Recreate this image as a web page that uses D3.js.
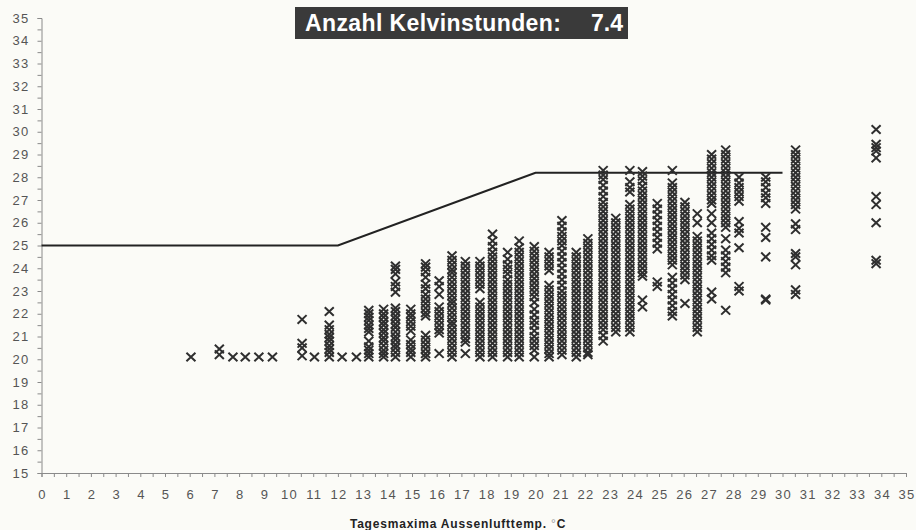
<!DOCTYPE html>
<html>
<head>
<meta charset="utf-8">
<script src="https://cdn.jsdelivr.net/npm/d3@7"></script>
<style>
 body { margin: 0; background: #fbfbf7; }
 svg { display: block; }
 text { font-family: "Liberation Sans", Arial, sans-serif; }
</style>
</head>
<body>
<div id="chart"></div>
<script>
// Tagesmaxima Aussenlufttemperatur (x) je Tag
var tmax = [6.05, 7.2, 7.75, 8.25, 8.8, 9.35, 10.55, 11.05, 11.65, 12.17, 12.75, 13.25, 13.85, 14.33,
  14.95, 15.55, 16.1, 16.62, 17.16, 17.75, 18.26, 18.87, 19.34, 19.95, 20.55, 21.07, 21.65, 22.12,
  22.74, 23.25, 23.82, 24.33, 24.93, 25.54, 26.05, 26.55, 27.13, 27.7, 28.24, 29.32, 30.53, 33.79];

// Raumtemperaturen (y) je Tag, gleiche Reihenfolge wie tmax
var troom = [
  [20.1],
  [20.45, 20.2],
  [20.1],
  [20.1],
  [20.1],
  [20.1],
  [21.75, 20.7, 20.5, 20.15],
  [20.1],
  [22.1, 21.5, 21.3, 21.1, 20.95, 20.8, 20.6, 20.45, 20.3, 20.1],
  [20.1],
  [20.1],
  [22.15, 22.0, 21.85, 21.7, 21.5, 21.35, 21.2, 20.8, 20.55, 20.4, 20.25, 20.1],
  [22.2, 22.0, 21.85, 21.65, 21.5, 21.3, 21.15, 20.95, 20.8, 20.6, 20.4, 20.25, 20.1],
  [24.1, 23.95, 23.75, 23.4, 23.2, 22.95, 22.25, 22.1, 21.9, 21.75, 21.55, 21.4, 21.2, 21.0, 20.85, 20.65, 20.5, 20.3, 20.1],
  [22.2, 22.0, 21.85, 21.65, 21.45, 21.25, 20.85, 20.65, 20.45, 20.3, 20.1],
  [24.2, 24.05, 23.85, 23.6, 23.3, 23.1, 22.85, 22.65, 22.45, 22.25, 22.05, 21.9, 21.05, 20.85, 20.65, 20.45, 20.25, 20.1],
  [23.45, 23.2, 22.85, 22.3, 22.1, 21.9, 21.7, 21.5, 21.3, 21.15, 20.25],
  [24.55, 24.35, 24.15, 23.95, 23.8, 23.6, 23.4, 23.2, 23.0, 22.8, 22.6, 22.45, 22.25, 22.05, 21.85, 21.65, 21.5, 21.3, 21.1, 20.9, 20.7, 20.5, 20.3, 20.1],
  [24.3, 24.1, 23.9, 23.7, 23.5, 23.3, 23.1, 22.9, 22.7, 22.5, 22.3, 22.1, 21.9, 21.7, 21.5, 21.3, 21.1, 20.9, 20.75, 20.25],
  [24.3, 24.1, 23.9, 23.7, 23.5, 23.3, 23.1, 22.5, 22.3, 22.1, 21.9, 21.7, 21.5, 21.3, 21.1, 20.9, 20.7, 20.5, 20.3, 20.1],
  [25.5, 25.2, 24.95, 24.7, 24.5, 24.3, 24.1, 23.9, 23.7, 23.5, 23.3, 23.1, 22.9, 22.7, 22.5, 22.3, 22.1, 21.9, 21.7, 21.5, 21.3, 21.1, 20.9, 20.7, 20.5, 20.3, 20.1],
  [24.7, 24.4, 24.15, 23.95, 23.75, 23.5, 23.3, 23.1, 22.9, 22.7, 22.5, 22.3, 22.1, 21.9, 21.7, 21.5, 21.3, 21.1, 20.9, 20.7, 20.5, 20.3, 20.1],
  [25.2, 24.9, 24.7, 24.5, 24.3, 24.1, 23.9, 23.7, 23.5, 23.3, 23.1, 22.9, 22.7, 22.5, 22.3, 22.1, 21.9, 21.7, 21.5, 21.3, 21.1, 20.9, 20.7, 20.5, 20.3, 20.1],
  [24.95, 24.75, 24.55, 24.35, 24.15, 23.95, 23.75, 23.55, 23.35, 23.15, 22.95, 22.75, 22.5, 22.2, 21.95, 21.7, 21.5, 21.25, 21.0, 20.8, 20.6, 20.4, 20.1],
  [24.7, 24.5, 24.3, 24.1, 23.9, 23.25, 23.05, 22.85, 22.65, 22.45, 22.25, 22.05, 21.85, 21.65, 21.45, 21.25, 21.05, 20.85, 20.65, 20.45, 20.25, 20.1],
  [26.1, 25.85, 25.6, 25.4, 25.2, 25.0, 24.75, 24.5, 24.25, 24.0, 23.75, 23.5, 23.25, 23.0, 22.8, 22.6, 22.4, 22.2, 22.0, 21.8, 21.6, 21.4, 21.2, 21.0, 20.8, 20.6, 20.4, 20.2],
  [24.7, 24.5, 24.3, 24.1, 23.9, 23.7, 23.5, 23.3, 23.1, 22.9, 22.7, 22.5, 22.3, 22.1, 21.9, 21.7, 21.5, 21.3, 21.1, 20.9, 20.7, 20.5, 20.3, 20.1],
  [25.3, 25.1, 24.9, 24.7, 24.5, 24.3, 24.1, 23.9, 23.7, 23.5, 23.3, 23.1, 22.9, 22.7, 22.5, 22.3, 22.1, 21.9, 21.7, 21.5, 21.3, 21.1, 20.9, 20.7, 20.5, 20.3, 20.2],
  [28.3, 28.1, 27.9, 27.65, 27.4, 27.15, 26.9, 26.7, 26.5, 26.3, 26.1, 25.9, 25.7, 25.5, 25.3, 25.1, 24.9, 24.7, 24.5, 24.3, 24.1, 23.9, 23.7, 23.5, 23.3, 23.1, 22.9, 22.7, 22.5, 22.3, 22.1, 21.9, 21.7, 21.5, 21.3, 21.05, 20.8],
  [26.2, 26.0, 25.8, 25.6, 25.4, 25.2, 25.0, 24.8, 24.6, 24.4, 24.2, 24.0, 23.8, 23.6, 23.4, 23.2, 23.0, 22.8, 22.6, 22.4, 22.2, 22.0, 21.8, 21.6, 21.4, 21.2],
  [28.3, 27.8, 27.55, 27.35, 26.8, 26.6, 26.4, 26.2, 26.0, 25.8, 25.6, 25.4, 25.2, 25.0, 24.8, 24.6, 24.4, 24.2, 24.0, 23.8, 23.6, 23.4, 23.2, 23.0, 22.8, 22.6, 22.4, 22.2, 22.0, 21.8, 21.6, 21.4, 21.2],
  [28.25, 28.05, 27.85, 27.6, 27.4, 27.2, 27.0, 26.8, 26.6, 26.4, 26.2, 26.0, 25.8, 25.6, 25.4, 25.2, 25.0, 24.8, 24.6, 24.4, 24.2, 24.0, 23.8, 23.65, 22.6, 22.3],
  [26.85, 26.6, 26.35, 26.1, 25.85, 25.6, 25.35, 25.1, 24.85, 23.4, 23.2],
  [28.3, 27.75, 27.55, 27.35, 27.15, 26.95, 26.75, 26.55, 26.35, 26.15, 25.95, 25.75, 25.55, 25.35, 25.15, 24.95, 24.75, 24.55, 24.35, 24.15, 23.6, 23.35, 23.1, 22.85, 22.6, 22.35, 22.1, 21.9],
  [26.9, 26.7, 26.5, 26.3, 26.1, 25.9, 25.7, 25.5, 25.3, 25.1, 24.9, 24.7, 24.5, 24.3, 24.1, 23.9, 23.7, 23.5, 22.45],
  [26.4, 26.0, 25.4, 25.2, 25.0, 24.8, 24.6, 24.4, 24.2, 24.0, 23.8, 23.6, 23.4, 23.2, 23.0, 22.8, 22.6, 22.4, 22.2, 22.0, 21.8, 21.6, 21.4, 21.2],
  [29.0, 28.8, 28.6, 28.4, 28.2, 28.0, 27.8, 27.6, 27.4, 27.2, 27.0, 26.85, 26.4, 26.0, 25.55, 25.3, 25.05, 24.8, 24.55, 24.35, 22.95, 22.65],
  [29.2, 29.0, 28.8, 28.6, 28.4, 28.2, 28.0, 27.8, 27.6, 27.4, 27.2, 27.0, 26.8, 26.6, 26.4, 26.2, 26.0, 25.8, 25.3, 24.8, 24.55, 24.3, 24.05, 23.8, 22.15],
  [28.0, 27.75, 27.55, 27.35, 27.15, 26.95, 26.05, 25.75, 25.55, 24.9, 23.2, 23.0],
  [28.0, 27.8, 27.55, 27.3, 27.1, 26.85, 25.8, 25.35, 24.5, 22.65, 22.6],
  [29.2, 29.0, 28.8, 28.6, 28.4, 28.2, 28.0, 27.8, 27.6, 27.4, 27.2, 27.0, 26.8, 26.6, 25.95, 25.7, 24.65, 24.5, 24.15, 23.05, 22.85],
  [30.1, 29.45, 29.3, 29.15, 28.85, 27.15, 26.8, 26.0, 24.35, 24.2]
];

// Grenzkurve Komfort
var limitX = [0, 12, 20, 30];
var limitY = [25, 25, 28.2, 28.2];

var titleText = "Anzahl Kelvinstunden:";
var titleValue = "7.4";
var xTitle = "Tagesmaxima Aussenlufttemp. ";

var w = 916;
var h = 530;
var svg = d3.select("#chart").append("svg").attr("width", w).attr("height", h);

var x = d3.scaleLinear().domain([0, 35]).range([41.5, 906]);
var y = d3.scaleLinear().domain([15, 35]).range([473, 18]);

// flat list of points
var dataset = [];
tmax.forEach(function(t, i) {
  troom[i].forEach(function(r) {
    dataset.push({ t: t, r: r });
  });
});

// ticks every half degree, labels on whole degrees
var halfX = [], halfY = [];
for (var k = 0; k <= 70; k++) halfX.push(k / 2);
for (var k = 0; k <= 40; k++) halfY.push(15 + k / 2);

var xAxis = d3.axisBottom(x).tickValues(halfX).tickSize(4).tickPadding(13)
  .tickFormat(function(d) { return d % 1 === 0 ? d : ""; });
var yAxis = d3.axisLeft(y).tickValues(halfY).tickSize(4).tickPadding(8)
  .tickFormat(function(d) { return d % 1 === 0 ? d : ""; });

var gx = svg.append("g").attr("transform", "translate(0," + y(15) + ")").call(xAxis);
var gy = svg.append("g").attr("transform", "translate(" + x(0) + ",0)").call(yAxis);

[gx, gy].forEach(function(g) {
  g.select(".domain").attr("stroke", "#8a8a8a");
  g.selectAll(".tick line").attr("stroke", "#8a8a8a");
  g.selectAll(".tick text")
    .attr("fill", "#555")
    .style("font-size", "13px")
    .style("letter-spacing", "1.3px");
});
gx.selectAll(".tick text").attr("dx", "0.6px");

// limit line
var line = d3.line()
  .x(function(d, i) { return x(limitX[i]); })
  .y(function(d) { return y(d); });

svg.append("path")
  .datum(limitY)
  .attr("d", line)
  .attr("fill", "none")
  .attr("stroke", "#222")
  .attr("stroke-width", 2);

// x markers
svg.selectAll("path.pt")
  .data(dataset)
  .enter()
  .append("path")
  .attr("class", "pt")
  .attr("d", "M-4.5,-4.3L4.5,4.3M-4.5,4.3L4.5,-4.3")
  .attr("transform", function(d) { return "translate(" + x(d.t) + "," + y(d.r) + ")"; })
  .attr("stroke", "#2f2f2f")
  .attr("stroke-width", 2)
  .attr("fill", "none");

// title box
svg.append("rect")
  .attr("x", 295).attr("y", 7)
  .attr("width", 333).attr("height", 32)
  .attr("fill", "#3a3a3a");

svg.append("text")
  .attr("x", 305).attr("y", 31)
  .attr("fill", "#fff")
  .style("font-size", "23px")
  .style("font-weight", "bold")
  .style("letter-spacing", "0.4px")
  .text(titleText);

svg.append("text")
  .attr("x", 623).attr("y", 31)
  .attr("text-anchor", "end")
  .attr("fill", "#fff")
  .style("font-size", "23px")
  .style("font-weight", "bold")
  .text(titleValue);

// x axis title
var xt = svg.append("text")
  .attr("x", 458).attr("y", 528)
  .attr("text-anchor", "middle")
  .attr("fill", "#222")
  .style("font-size", "12px")
  .style("font-weight", "bold")
  .style("letter-spacing", "0.8px");
xt.append("tspan").text(xTitle);
xt.append("tspan").attr("fill", "#999").style("font-weight", "normal").text("°");
xt.append("tspan").text("C");
</script>
</body>
</html>
